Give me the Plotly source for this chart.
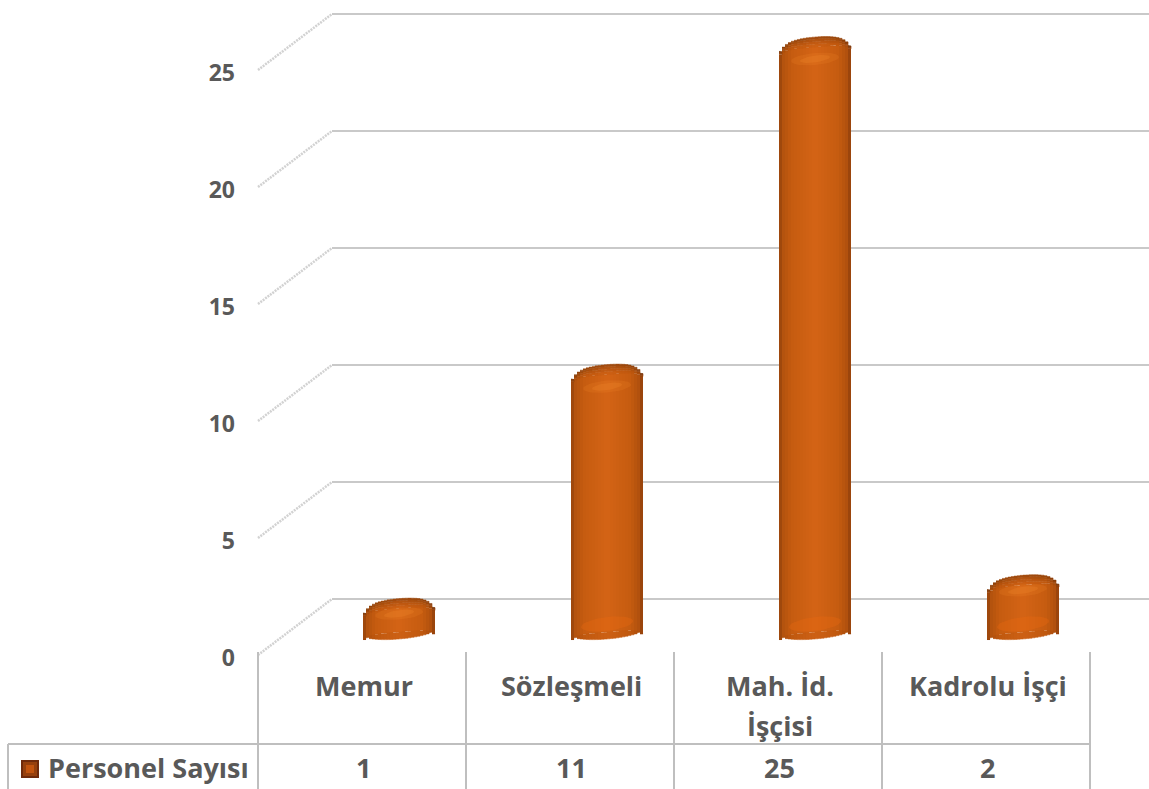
import numpy as np
import plotly.graph_objects as go

categories = ["Memur", "Sözleşmeli", "Mah. İd.<br>İşçisi", "Kadrolu İşçi"]
values = [1, 11, 25, 2]
series_name = "Personel Sayısı"
y_ticks = [0, 5, 10, 15, 20, 25]

W, H = 1149, 789
X0, DX = 399.0, 208.0      # pixel of first bar centre, pixels per category
Y0, DY = 632.0, 23.4       # pixel of value 0 on the bar plane, pixels per unit
BAR_W = 72 / DX
TEXT = "#595959"
LINE = "#bfbfbf"
FONT = "Open Sans"

px2x = lambda p: (p - X0) / DX
dy = lambda p: p / DY      # pixel offset -> value offset (upward positive)

STOPS = [(-1, (146, 66, 12)), (-.9, (178, 82, 14)), (-.65, (198, 92, 16)), (0, (212, 100, 22)),
         (.65, (198, 92, 16)), (.9, (176, 80, 14)), (1, (140, 62, 12))]
def shade(u, k=1.0):
    us = [s[0] for s in STOPS]
    c = [np.interp(u, us, [s[1][i] for s in STOPS]) * k for i in range(3)]
    return "rgb(%d,%d,%d)" % tuple(c)

fig = go.Figure()

# cylinders made of narrow shaded slices
N = 24
TILT, CAP, FOOT, SHOULDER = 3.0, 10.0, 7.0, 6.0
xs = list(range(len(values)))
sw = BAR_W / N
for i in range(N):
    u0, u1 = -1 + 2 * i / N, -1 + 2 * (i + 1) / N
    um = (u0 + u1) / 2
    sh = SHOULDER * abs(um) ** 6          # rounds the corners of each end
    tilt = dy(TILT * um)
    base = tilt - dy(sh)
    fig.add_trace(go.Bar(x=xs, y=values, base=base, width=sw * 1.02,
                         offset=-BAR_W / 2 + i * sw, marker=dict(color=shade(um), line=dict(width=0)),
                         hoverinfo="skip", showlegend=False))
    edge = max(1 - um * um, 0) ** 0.45
    foot_edge = max(1 - um * um, 0) ** 0.5
    # foot
    foot = max(FOOT * foot_edge - sh, 0)
    fx, fy = [], []
    for c, v in zip(xs, values):
        xa, xb = c + u0 * BAR_W / 2, c + (u0 + 2 / N) * BAR_W / 2 + sw * .02
        fx += [xa, xb, xb, xa, None]
        fy += [base, base, base - dy(foot), base - dy(foot), None]
    fig.add_trace(go.Scatter(x=fx, y=fy, mode="lines", fill="toself", fillcolor=shade(um, .97),
                             line=dict(width=.5, color=shade(um, .97)), hoverinfo="skip", showlegend=False))
    # cap, in layers that darken towards the rim
    for lo, hi, k in [(0, .3, .97), (.3, .55, .92), (.55, .8, .86), (.8, 1, .78)]:
        fx, fy = [], []
        for c, v in zip(xs, values):
            xa, xb = c + u0 * BAR_W / 2, c + (u0 + 2 / N) * BAR_W / 2 + sw * .02
            ya, yb = v + base + dy(CAP * edge * lo), v + base + dy(CAP * edge * hi)
            fx += [xa, xb, xb, xa, None]
            fy += [ya, ya, yb, yb, None]
        fig.add_trace(go.Scatter(x=fx, y=fy, mode="lines", fill="toself", fillcolor=shade(um, k),
                                 line=dict(width=.5, color=shade(um, k)), hoverinfo="skip", showlegend=False))

# soft highlights
th = np.linspace(0, 2 * np.pi, 37)
for c, v in zip(xs, values):
    off = -12 if v > 2 else -5
    for px_w, px_h, op in [(24, 6, .18), (15, 3.5, .28)]:
        hx = c + px_w / DX * np.cos(th)
        hy = v + dy(off) + dy(px_h) * np.sin(th) + dy(2) * np.cos(th)
        fig.add_trace(go.Scatter(x=hx, y=hy, mode="lines", fill="toself", fillcolor="#f28a2c",
                                 opacity=op, line=dict(width=0), hoverinfo="skip", showlegend=False))
    if v > 1:
        hx = c + 26 / DX * np.cos(th)
        hy = dy(8) + dy(7) * np.sin(th) + dy(3) * np.cos(th)
        fig.add_trace(go.Scatter(x=hx, y=hy, mode="lines", fill="toself", fillcolor="#ee6a10",
                                 opacity=.3, line=dict(width=0), hoverinfo="skip", showlegend=False))

# second axis only carries the value labels (front edge of the side wall)
fig.add_trace(go.Scatter(x=[None], y=[None], yaxis="y2", showlegend=False, hoverinfo="skip"))

# category labels: lines are set wider apart than a <br> would give
LABEL = dict(family=FONT, size=27, color=TEXT, weight=700)
ann = []
for i, cat in enumerate(categories):
    cx = px2x(363.5 + DX * i)
    for j, line in enumerate(cat.split("<br>")):
        ann.append(dict(x=cx, xref="x", y=1 - (685 + 40 * j) / H, yref="paper", text=line, showarrow=False,
                        font=LABEL, xanchor="center", yanchor="middle"))
    ann.append(dict(x=cx, xref="x", y=1 - 767 / H, yref="paper", text=str(values[i]), showarrow=False,
                    font=LABEL, xanchor="center", yanchor="middle"))
ann.append(dict(x=46 / W, xref="paper", y=1 - 767 / H, yref="paper", text=series_name, showarrow=False,
                font=LABEL, xanchor="left", yanchor="middle"))

def pline(x0, y0, x1, y1):
    return dict(type="line", xref="paper", yref="paper", x0=x0 / W, x1=x1 / W, y0=1 - y0 / H, y1=1 - y1 / H,
                line=dict(color=LINE, width=2))
shapes = [pline(x, 652, x, H) for x in [258, 466, 674, 882, 1090]]
shapes += [pline(8, 744, 1090, 744), pline(8, 744, 8, H)]
for a, b, col in [(21, 39, "#6f2a0b"), (23, 37, "#96400d"), (26, 34, "#c2540f")]:
    shapes.append(dict(type="rect", xref="paper", yref="paper", x0=a / W, x1=b / W,
                       y0=1 - (760 + a - 21) / H, y1=1 - (778 - a + 21) / H, fillcolor=col, line=dict(width=0)))
# wall grid and side lines stay behind the cylinders
for t in y_ticks:
    shapes.append(dict(type="line", xref="x", yref="y", layer="below", x0=px2x(332), x1=px2x(W),
                       y0=t + dy(33), y1=t + dy(33), line=dict(color="#c9c9c9", width=2)))
    shapes.append(dict(type="line", xref="x", yref="y", layer="below", x0=px2x(258), x1=px2x(332),
                       y0=t - dy(23), y1=t + dy(33), line=dict(color="#d2d2d2", width=2.5, dash="2px,1px")))

ymax = Y0 / DY
ymin = -(H - Y0) / DY
fig.update_layout(
    width=W, height=H, autosize=False, margin=dict(l=0, r=0, t=0, b=0),
    paper_bgcolor="white", plot_bgcolor="white", barmode="overlay", bargap=0,
    showlegend=False, shapes=shapes, annotations=ann,
    xaxis=dict(range=[px2x(0), px2x(W)], showgrid=False, zeroline=False, showticklabels=False, ticks="",
               fixedrange=True),
    yaxis=dict(range=[ymin, ymax], showgrid=False, zeroline=False, showticklabels=False, ticks="",
               fixedrange=True),
    yaxis2=dict(range=[ymin + 25.5 / DY, ymax + 25.5 / DY], overlaying="y", anchor="free", position=235 / W,
                side="left", tickvals=y_ticks, showgrid=False, zeroline=False, showline=False, ticks="",
                tickfont=dict(family=FONT, size=23, color=TEXT, weight=700), fixedrange=True),
)
fig.write_html("out.html", config=dict(displayModeBar=False),
               post_script="document.body.style.margin='0';document.documentElement.style.overflow='hidden';")
